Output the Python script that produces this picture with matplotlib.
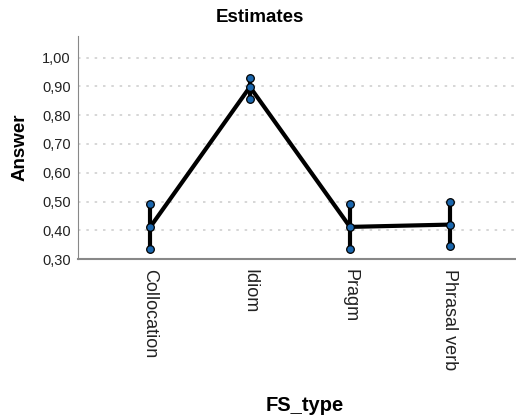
import matplotlib.pyplot as plt
from matplotlib.ticker import FuncFormatter

plt.rcParams['font.family'] = ['Liberation Sans', 'DejaVu Sans']

# Estimated marginal means with CI bounds
fs_types = ["Collocation", "Idiom", "Pragm", "Phrasal verb"]
means = [0.41, 0.898, 0.412, 0.420]
lower = [0.335, 0.855, 0.337, 0.345]
upper = [0.49, 0.93, 0.492, 0.500]
y_ticks = [0.30, 0.40, 0.50, 0.60, 0.70, 0.80, 0.90, 1.00]

fig = plt.figure(figsize=(5.16, 4.18), dpi=100)
ax = fig.add_axes([0.151, 0.380, 0.849, 0.534])

x = list(range(len(fs_types)))
for i in x:
    ax.plot([i, i], [lower[i], upper[i]], color="black", lw=3, zorder=2,
            solid_capstyle="butt")
ax.plot(x, means, color="black", lw=3, zorder=3)
for vals in (lower, means, upper):
    ax.plot(x, vals, ls="none", marker="o", ms=5.5, mfc="#1a66ad",
            mec="black", mew=0.9, zorder=4)

ax.set_xlim(-0.72, 3.66)
ax.set_ylim(0.30, 1.075)
ax.set_yticks(y_ticks)
ax.yaxis.set_major_formatter(FuncFormatter(lambda v, p: f"{v:.2f}".replace(".", ",")))
ax.set_xticks(x)
ax.set_xticklabels(fs_types, rotation=-90, va="top", ha="center", fontsize=13)
ax.tick_params(axis="both", length=0, colors="#222222")
ax.tick_params(axis="y", labelsize=10.5, pad=5)
ax.tick_params(axis="x", pad=7)

ax.grid(axis="y", color="#d0d0d0", ls=(0, (1.5, 3.5)), lw=1.2)
ax.set_axisbelow(True)
for s in ("top", "right"):
    ax.spines[s].set_visible(False)
ax.spines["left"].set_color("#888888")
ax.spines["bottom"].set_color("#888888")
ax.spines["bottom"].set_linewidth(1.5)

fig.text(0.504, 0.957, "Estimates", fontsize=13.5, fontweight="bold",
         ha="center", va="center")
ax.set_ylabel("Answer", fontsize=13.5, fontweight="bold", labelpad=10)
fig.text(0.591, 0.031, "FS_type", fontsize=14.5, fontweight="bold",
         ha="center", va="center")

fig.savefig("out.png", dpi=100)
